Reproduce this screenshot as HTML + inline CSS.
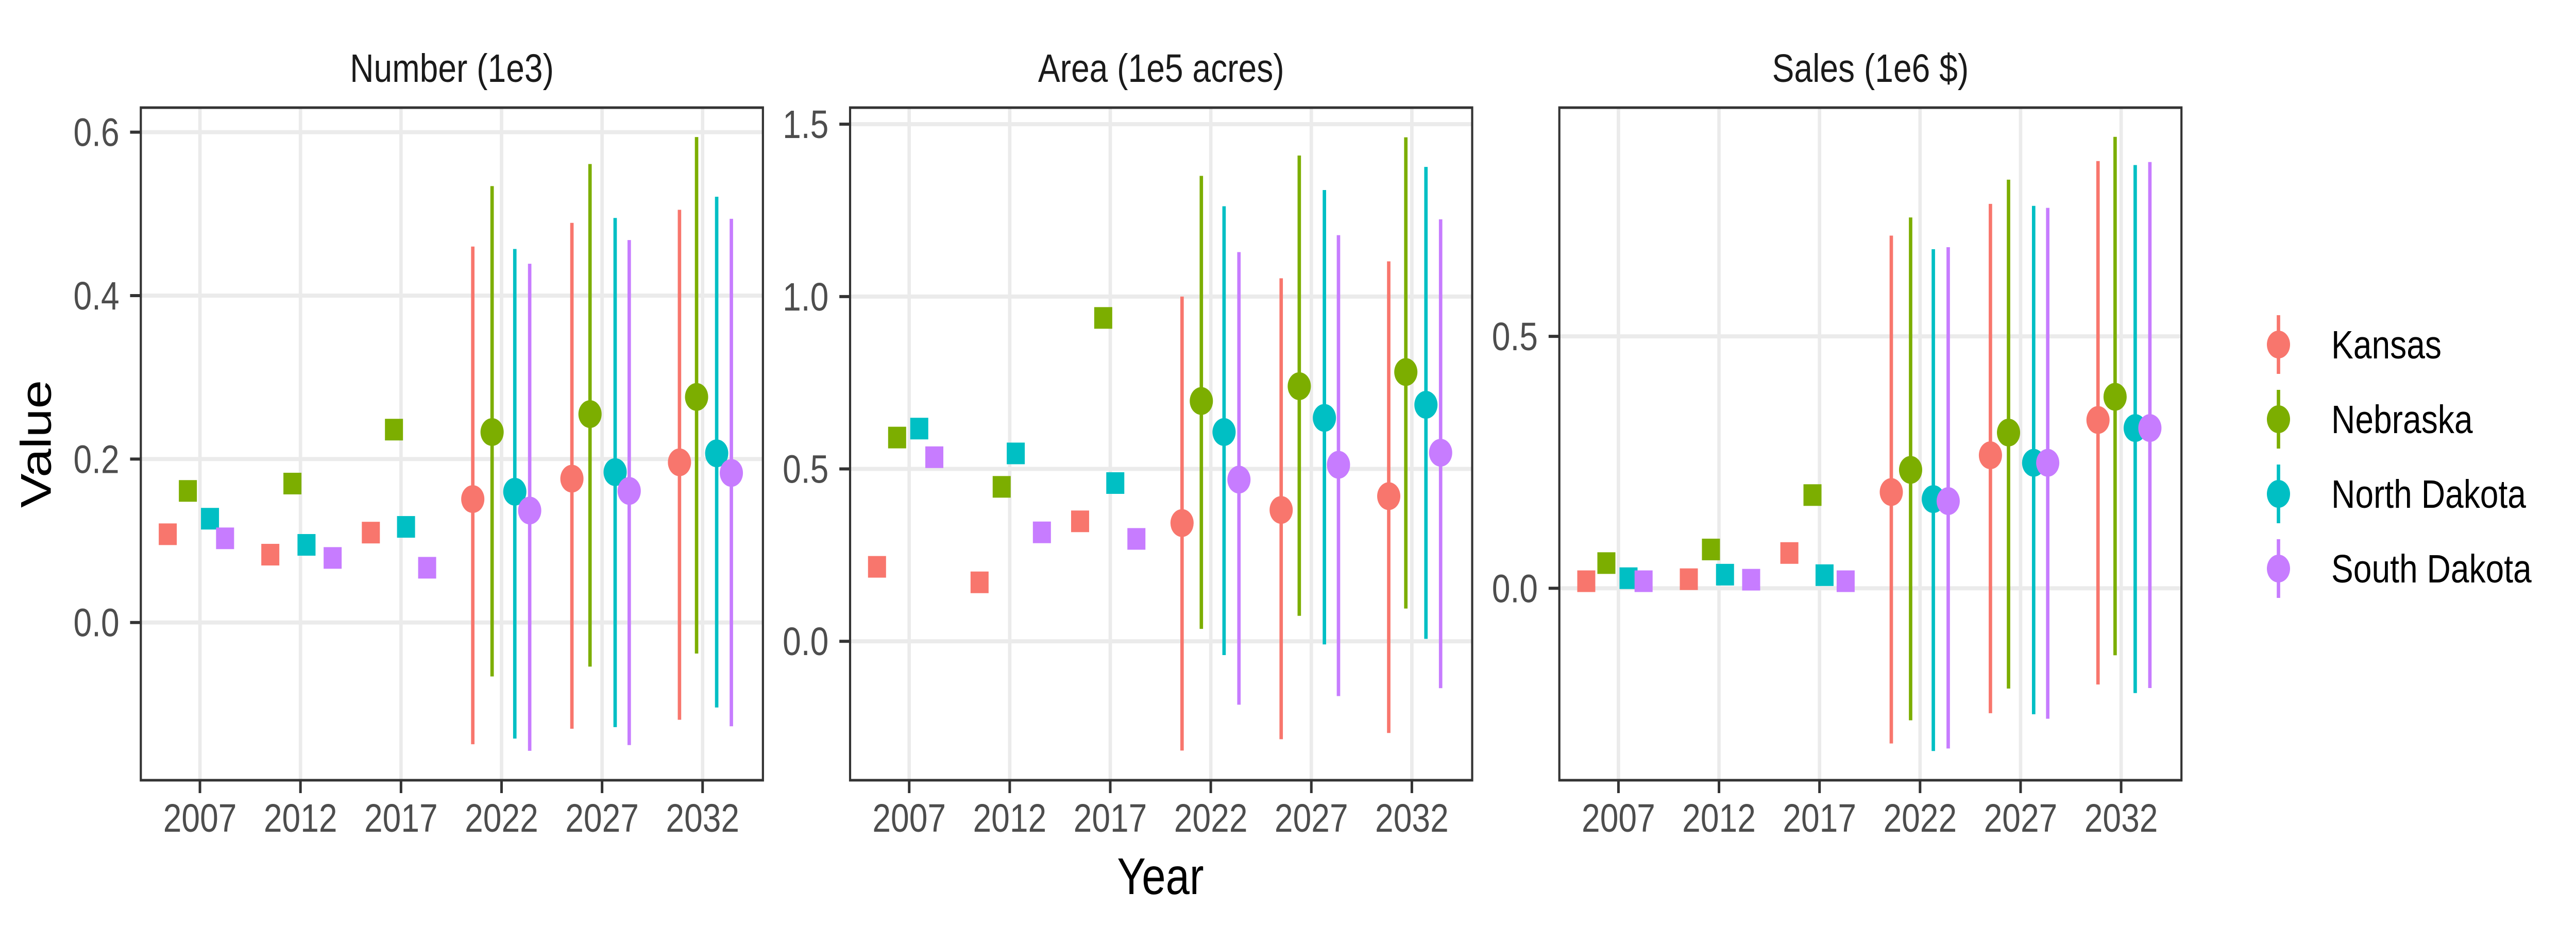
<!DOCTYPE html>
<html><head><meta charset="utf-8">
<style>
html,body{margin:0;padding:0;background:#fff;width:100%;height:100%;overflow:hidden;}
svg{display:block;font-family:"Liberation Sans",Arial,sans-serif;width:100vw;height:100vh;}
</style></head>
<body>
<svg id="chart" viewBox="0 0 6000 1800" preserveAspectRatio="none" xmlns="http://www.w3.org/2000/svg">
<rect width="6000" height="1800" fill="#fff"/>
<g id="panels"></g>
<text x="0" y="0" transform="translate(118,862) rotate(-90)" text-anchor="middle" font-size="100" fill="#000">Value</text>
<text x="2703" y="1736" text-anchor="middle" font-size="100" fill="#000">Year</text>
<g id="legend"></g>
</svg>
<script>
const seriesNames = ["Kansas","Nebraska","North Dakota","South Dakota"];
const seriesColors = ["#F8766D","#7CAE00","#00BFC4","#C77CFF"];
const xTickLabels = [2007,2012,2017,2022,2027,2032];
const histX = [[2005.4,2010.5,2015.5],[2006.4,2011.6,2016.65],[2007.5,2012.3,2017.25],[2008.25,2013.6,2018.3]];
const fcX = [[2020.57,2025.5,2030.85],[2021.53,2026.4,2031.7],[2022.66,2027.65,2032.7],[2023.4,2028.35,2033.43]];

const panelTitles = ["Number (1e3)","Area (1e5 acres)","Sales (1e6 $)"];
const yTicksNumber = [0.0,0.2,0.4,0.6];
const yTicksArea = [0.0,0.5,1.0,1.5];
const yTicksSales = [0.0,0.5];
const yTickLabelsNumber = ["0.0","0.2","0.4","0.6"];
const yTickLabelsArea = ["0.0","0.5","1.0","1.5"];
const yTickLabelsSales = ["0.0","0.5"];
const yRangeNumber = [-0.193,0.630];
const yRangeArea = [-0.403,1.548];
const yRangeSales = [-0.381,0.954];

const histNumber = [[0.108,0.083,0.110],[0.161,0.170,0.236],[0.127,0.095,0.117],[0.103,0.079,0.067]];
const fcNumber = [[0.151,0.176,0.196],[0.233,0.255,0.276],[0.160,0.184,0.207],[0.137,0.161,0.183]];
const loNumber = [[-0.149,-0.130,-0.119],[-0.066,-0.054,-0.038],[-0.142,-0.128,-0.104],[-0.157,-0.150,-0.127]];
const hiNumber = [[0.460,0.489,0.505],[0.534,0.561,0.594],[0.457,0.495,0.521],[0.439,0.468,0.494]];
const histArea = [[0.216,0.171,0.348],[0.591,0.448,0.938],[0.617,0.545,0.459],[0.534,0.316,0.297]];
const fcArea = [[0.343,0.381,0.421],[0.697,0.740,0.781],[0.607,0.648,0.686],[0.469,0.512,0.547]];
const loArea = [[-0.317,-0.284,-0.266],[0.036,0.074,0.095],[-0.040,-0.009,0.007],[-0.184,-0.159,-0.136]];
const hiArea = [[1.000,1.053,1.102],[1.350,1.409,1.462],[1.262,1.309,1.376],[1.129,1.178,1.224]];
const histSales = [[0.014,0.018,0.070],[0.050,0.077,0.185],[0.020,0.027,0.026],[0.014,0.017,0.014]];
const fcSales = [[0.191,0.264,0.334],[0.235,0.309,0.380],[0.177,0.249,0.318],[0.173,0.249,0.318]];
const loSales = [[-0.308,-0.248,-0.191],[-0.262,-0.199,-0.133],[-0.323,-0.250,-0.208],[-0.318,-0.259,-0.198]];
const hiSales = [[0.700,0.763,0.848],[0.736,0.811,0.896],[0.673,0.759,0.840],[0.677,0.755,0.846]];

const NS = "http://www.w3.org/2000/svg";
function mk(tag, attrs, parent){
  const e = document.createElementNS(NS, tag);
  for (const k in attrs) e.setAttribute(k, attrs[k]);
  parent.appendChild(e);
  return e;
}
const panelsG = document.getElementById("panels");
const panelLefts = [328,1980,3632];
const PW = 1449, PT = 209, PB = 1515;
const xMin = 2004.06, xMax = 2035.0;

const panels = [
  {key:"number", ticks:yTicksNumber, labels:yTickLabelsNumber, range:yRangeNumber, hist:histNumber, fc:fcNumber, lo:loNumber, hi:hiNumber},
  {key:"area", ticks:yTicksArea, labels:yTickLabelsArea, range:yRangeArea, hist:histArea, fc:fcArea, lo:loArea, hi:hiArea},
  {key:"sales", ticks:yTicksSales, labels:yTickLabelsSales, range:yRangeSales, hist:histSales, fc:fcSales, lo:loSales, hi:hiSales}
];

panels.forEach((p, pi) => {
  const L = panelLefts[pi], R = L + PW;
  const xs = v => L + (v - xMin) / (xMax - xMin) * PW;
  const ys = v => PB - (v - p.range[0]) / (p.range[1] - p.range[0]) * (PB - PT);
  const g = mk("g", {}, panelsG);
  
  
  const title = mk("text", {x: L + PW/2, y: 159, "text-anchor":"middle", "font-size":77, fill:"#1a1a1a"}, g);
  title.textContent = panelTitles[pi];
  
  
  p.ticks.forEach((t, i) => {
    const y = ys(t);
    const gl = mk("line", {x1:L, x2:R, y1:y, y2:y, stroke:"#EBEBEB", "stroke-width":8}, g);
    
    
  });
  xTickLabels.forEach(t => {
    const x = xs(t);
    const gl = mk("line", {x1:x, x2:x, y1:PT, y2:PB, stroke:"#EBEBEB", "stroke-width":8}, g);
    
    
  });
  seriesNames.forEach((s, si) => {
    p.hist[si].forEach((v, j) => {
      const x = xs(histX[si][j]), y = ys(v);
      const r = mk("rect", {x:x-21, y:y-21, width:42, height:42, fill:seriesColors[si]}, g);
      
      
    });
  });
  seriesNames.forEach((s, si) => {
    p.fc[si].forEach((v, j) => {
      const x = xs(fcX[si][j]);
      const ln = mk("line", {x1:x, x2:x, y1:ys(p.lo[si][j]), y2:ys(p.hi[si][j]), stroke:seriesColors[si], "stroke-width":8}, g);
      
      
      const c = mk("circle", {cx:x, cy:ys(v), r:27, fill:seriesColors[si]}, g);
      
      
    });
  });
  const b = mk("rect", {x:L, y:PT, width:PW, height:PB-PT, fill:"none", stroke:"#333", "stroke-width":5}, g);
  
  
  p.ticks.forEach((t, i) => {
    const y = ys(t);
    const tk = mk("line", {x1:L-25, x2:L, y1:y, y2:y, stroke:"#333", "stroke-width":6}, g);
    
    
    const tl = mk("text", {x:L-50, y:y+27, "text-anchor":"end", "font-size":77, fill:"#4d4d4d"}, g);
    tl.textContent = p.labels[i];
    
    
  });
  xTickLabels.forEach(t => {
    const x = xs(t);
    const tk = mk("line", {x1:x, x2:x, y1:PB, y2:PB+25, stroke:"#333", "stroke-width":6}, g);
    
    
    const tl = mk("text", {x:x, y:1615, "text-anchor":"middle", "font-size":77, fill:"#4d4d4d"}, g);
    tl.textContent = t;
    
    
  });
});

const lg = document.getElementById("legend");
seriesNames.forEach((s, i) => {
  const cy = 669 + i * 145;
  const ge = mk("g", {}, lg);
  
  
  mk("line", {x1:5307, x2:5307, y1:cy-57, y2:cy+57, stroke:seriesColors[i], "stroke-width":8}, ge);
  mk("circle", {cx:5307, cy:cy, r:27, fill:seriesColors[i]}, ge);
  const t = mk("text", {x:5430, y:cy+27, "font-size":77, fill:"#000"}, ge);
  t.textContent = s;
});
</script>
</body></html>
